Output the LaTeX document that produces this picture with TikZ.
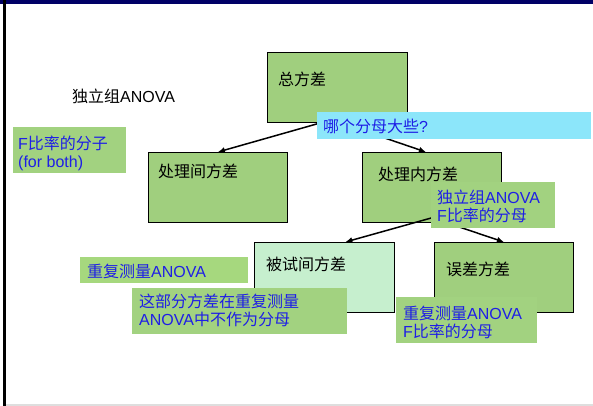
\documentclass[tikz,border=0pt]{standalone}
\usepackage{fontspec}
\setmainfont{Liberation Sans}
\newfontfamily\cjk{Noto Sans CJK SC}
\usetikzlibrary{arrows.meta}
\newcommand\zhs[1]{{\cjk #1}}
\definecolor{boxgreen}{RGB}{160,207,126}
\definecolor{labgreen}{RGB}{162,210,128}
\definecolor{rmgreen}{RGB}{166,216,126}
\definecolor{lightgreen}{RGB}{198,239,206}
\definecolor{qcyan}{RGB}{140,230,250}
\definecolor{annblue}{RGB}{30,30,230}
\definecolor{navy}{RGB}{0,0,102}
\begin{document}
\begin{tikzpicture}[x=1pt,y=-1pt,
  box/.style={draw=black, line width=0.8pt, fill=boxgreen, inner sep=0, anchor=north west},
  lab/.style={fill=labgreen, inner sep=0, anchor=north west},
  txt/.style={inner sep=0, anchor=base west, font=\fontsize{16}{18}\selectfont},
  ann/.style={txt, text=annblue},
  annm/.style={inner sep=0, anchor=north west, align=left, text=annblue, font=\fontsize{16}{18}\selectfont},
  conn/.style={line width=1.5pt, -{Latex[length=7pt,width=6pt]}}]
\useasboundingbox (0,0) rectangle (593,406);
\fill[white] (0,0) rectangle (593,406);
% frame
\fill[navy] (0,0) rectangle (593,4);
\fill[black] (3,0) rectangle (5.5,406);
\fill[black!13] (5.5,404) rectangle (593,406);
% main boxes
\node[box, minimum width=140, minimum height=70] (total) at (267,52) {};
\node[box, minimum width=139, minimum height=70] (between) at (148,152) {};
\node[box, minimum width=139, minimum height=70] (within) at (362,152) {};
\node[box, fill=lightgreen, minimum width=140, minimum height=70] (subj) at (254,242) {};
\node[box, minimum width=139, minimum height=70] (error) at (434,242) {};
% box texts
\node[txt] (totalt) at (278,86) {\zhs{总方差}};
\node[txt] (betweent) at (158,177) {\zhs{处理间方差}};
\node[txt] (withint) at (378,180) {\zhs{处理内方差}};
\node[txt] (subjt) at (266,270) {\zhs{被试间方差}};
\node[txt] (errort) at (446,275) {\zhs{误差方差}};
\node[txt] (indep) at (72,103) {\zhs{独立组}ANOVA};
% connectors
\draw[conn] ([xshift=-6pt,yshift=3pt]total.south) -- (between.north);
\draw[conn] ([xshift=-6pt,yshift=3pt]total.south) -- ([xshift=-6pt]within.north);
\draw[conn] ([yshift=5pt]within.south) -- ([xshift=21pt]subj.north);
\draw[conn] ([yshift=5pt]within.south) -- (error.north);
% annotation boxes
\node[lab, fill=qcyan, minimum width=274, minimum height=27] (qbox) at (317,112) {};
\node[ann] (qt) at (323,132) {\zhs{哪个分母大些}?};
\node[lab, minimum width=113, minimum height=46] (numbox) at (13,127) {};
\node[annm] (numt) at (18,136) {F\zhs{比率的分子}\\(for both)};
\node[lab, minimum width=124, minimum height=46] (idbox) at (431,182) {};
\node[annm] (idt) at (437,190) {\zhs{独立组}ANOVA\\F\zhs{比率的分母}};
\node[lab, fill=rmgreen, minimum width=168, minimum height=26] (rmbox) at (80,257) {};
\node[ann] (rmt) at (87,277) {\zhs{重复测量}ANOVA};
\node[lab, minimum width=215, minimum height=46] (ndbox) at (132,288) {};
\node[annm] (ndt) at (139,294) {\zhs{这部分方差在重复测量}\\ANOVA\zhs{中不作为分母}};
\node[lab, minimum width=141, minimum height=46] (rdbox) at (396,297) {};
\node[annm] (rdt) at (403,306) {\zhs{重复测量}ANOVA\\F\zhs{比率的分母}};
\end{tikzpicture}
\end{document}
